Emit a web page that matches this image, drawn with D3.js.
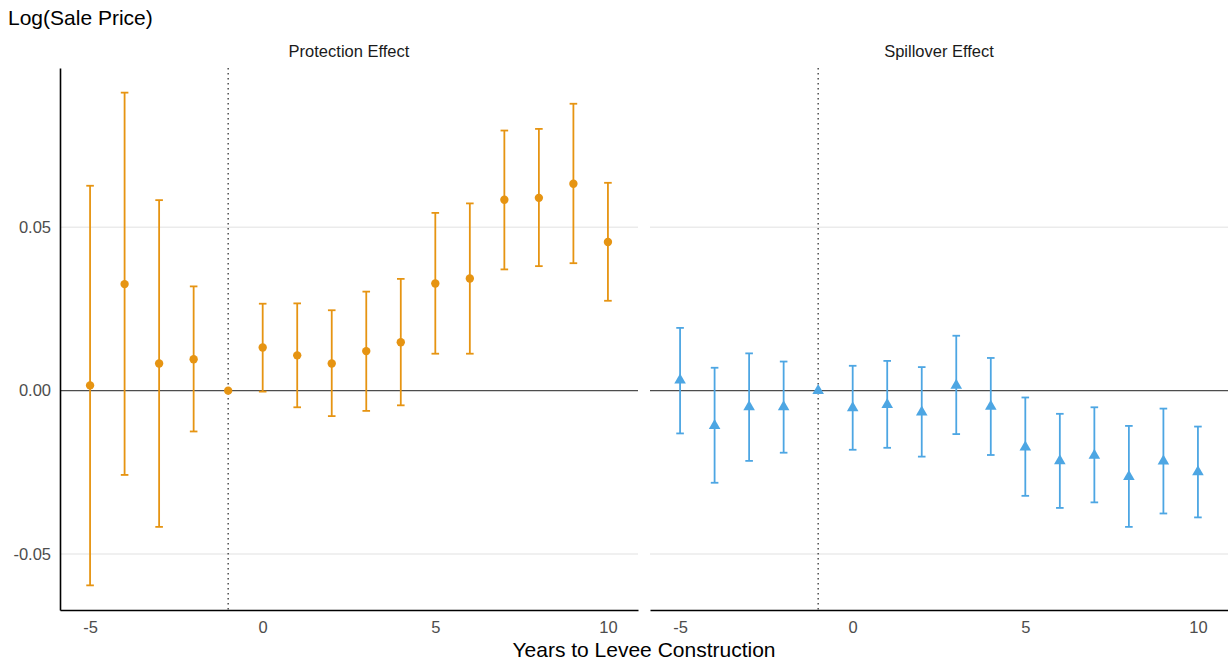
<!DOCTYPE html>
<html>
<head>
<meta charset="utf-8">
<script src="https://cdn.jsdelivr.net/npm/d3@7"></script>
<style>
  body { margin: 0; background: #fff; }
  text { font-family: "Liberation Sans", Arial, Helvetica, sans-serif; }
</style>
</head>
<body>
<svg id="chart"></svg>
<script>
// years relative to levee construction
const years = [-5, -4, -3, -2, -1, 0, 1, 2, 3, 4, 5, 6, 7, 8, 9, 10];

// Protection effect
const protEst = [0.0016, 0.0326, 0.0083, 0.0096, 0, 0.0132, 0.0108, 0.0083, 0.0121, 0.0148, 0.0328, 0.0343, 0.0584, 0.0590, 0.0633, 0.0455];
const protLo  = [-0.0596, -0.0258, -0.0417, -0.0125, 0, -0.0003, -0.0051, -0.0078, -0.0062, -0.0045, 0.0113, 0.0113, 0.0371, 0.0381, 0.0390, 0.0275];
const protHi  = [0.0627, 0.0912, 0.0583, 0.0319, 0, 0.0266, 0.0267, 0.0246, 0.0303, 0.0342, 0.0544, 0.0573, 0.0796, 0.0801, 0.0878, 0.0636];

// Spillover effect
const spillEst = [0.0032, -0.0107, -0.0050, -0.0050, 0, -0.0053, -0.0043, -0.0066, 0.0016, -0.0048, -0.0173, -0.0215, -0.0198, -0.0263, -0.0216, -0.0249];
const spillLo  = [-0.0131, -0.0282, -0.0215, -0.0190, 0, -0.0181, -0.0175, -0.0202, -0.0133, -0.0197, -0.0322, -0.0359, -0.0342, -0.0417, -0.0376, -0.0388];
const spillHi  = [0.0192, 0.0070, 0.0114, 0.0089, 0, 0.0076, 0.0091, 0.0072, 0.0168, 0.0100, -0.0021, -0.0071, -0.0051, -0.0108, -0.0055, -0.0110];

const panelNames = ["Protection Effect", "Spillover Effect"];
const xTicks = [-5, 0, 5, 10];
const yTicks = [-0.05, 0, 0.05];
const refYear = -1;

const width = 1228, height = 662;
const margin = { top: 68, bottom: 52, left: 60, right: 0 };
const panelGap = 12;
const panelW = (width - margin.left - margin.right - panelGap) / 2;
const panelH = height - margin.top - margin.bottom;

const panels = [
    { name: panelNames[0], est: protEst, lo: protLo, hi: protHi, color: "#E69412", shape: d3.symbolCircle },
    { name: panelNames[1], est: spillEst, lo: spillLo, hi: spillHi, color: "#4DA6E3", shape: d3.symbolTriangle }
];

const svg = d3.select("#chart")
    .attr("width", width)
    .attr("height", height);

// plain hyphen for negatives, like the original
const fmtX = d => String(d);
const fmtY = d => d3.format(".2f")(d).replace("\u2212", "-");

// scales (ggplot-style 5% expansion, error bar width included)
const barW = 0.22;
const xMin = d3.min(years) - barW / 2, xMax = d3.max(years) + barW / 2;
const xPad = (xMax - xMin) * 0.05;
const xScale = d3.scaleLinear()
    .domain([xMin - xPad, xMax + xPad])
    .range([0, panelW]);

const allVals = protLo.concat(protHi, spillLo, spillHi);
const yMin = d3.min(allVals), yMax = d3.max(allVals);
const yPad = (yMax - yMin) * 0.05;
const yScale = d3.scaleLinear()
    .domain([yMin - yPad, yMax + yPad])
    .range([panelH, 0]);

const tickFont = 16.5;

panels.forEach((p, i) => {
    const g = svg.append("g")
        .attr("transform", `translate(${margin.left + i * (panelW + panelGap)},${margin.top})`);

    // grid lines
    g.selectAll(".grid")
        .data(yTicks.filter(d => d !== 0))
        .join("line")
        .attr("x1", 0).attr("x2", panelW)
        .attr("y1", d => yScale(d)).attr("y2", d => yScale(d))
        .attr("stroke", "#ebebeb")
        .attr("stroke-width", 1.5);

    // zero line
    g.append("line")
        .attr("x1", 0).attr("x2", panelW)
        .attr("y1", yScale(0)).attr("y2", yScale(0))
        .attr("stroke", "#4d4d4d")
        .attr("stroke-width", 1.1);

    // reference year
    g.append("line")
        .attr("x1", xScale(refYear)).attr("x2", xScale(refYear))
        .attr("y1", 0).attr("y2", panelH)
        .attr("stroke", "#333")
        .attr("stroke-width", 1.3)
        .attr("stroke-dasharray", "1.4,3.6");

    const rows = years.map((yr, k) => ({ yr: yr, est: p.est[k], lo: p.lo[k], hi: p.hi[k] }));
    const bars = rows.filter(d => d.lo !== d.hi);

    // error bars
    const eb = g.append("g")
        .attr("stroke", p.color)
        .attr("stroke-width", 1.8)
        .attr("fill", "none");

    eb.selectAll(".stem").data(bars).join("line")
        .attr("x1", d => xScale(d.yr)).attr("x2", d => xScale(d.yr))
        .attr("y1", d => yScale(d.lo)).attr("y2", d => yScale(d.hi));

    eb.selectAll(".capTop").data(bars).join("line")
        .attr("x1", d => xScale(d.yr - barW / 2)).attr("x2", d => xScale(d.yr + barW / 2))
        .attr("y1", d => yScale(d.hi)).attr("y2", d => yScale(d.hi));

    eb.selectAll(".capBot").data(bars).join("line")
        .attr("x1", d => xScale(d.yr - barW / 2)).attr("x2", d => xScale(d.yr + barW / 2))
        .attr("y1", d => yScale(d.lo)).attr("y2", d => yScale(d.lo));

    // points
    const sym = d3.symbol().type(p.shape).size(p.shape === d3.symbolCircle ? 55 : 58);
    g.selectAll(".pt").data(rows).join("path")
        .attr("d", sym)
        .attr("transform", d => `translate(${xScale(d.yr)},${yScale(d.est)})`)
        .attr("fill", p.color);

    // bottom axis
    const xAxis = d3.axisBottom(xScale).tickValues(xTicks).tickSize(0).tickPadding(11).tickFormat(fmtX);
    const xg = g.append("g")
        .attr("transform", `translate(0,${panelH})`)
        .call(xAxis);
    xg.select(".domain").attr("stroke", "#000").attr("stroke-width", 1.6);
    xg.selectAll("text").attr("font-size", tickFont).attr("fill", "#4d4d4d")
        .attr("font-family", "Liberation Sans, Arial, sans-serif");

    if (i === 0) {
        const yAxis = d3.axisLeft(yScale).tickValues(yTicks).tickSize(0).tickPadding(9)
            .tickFormat(fmtY);
        const yg = g.append("g").call(yAxis);
        yg.select(".domain").attr("stroke", "#000").attr("stroke-width", 1.6);
        yg.selectAll("text").attr("font-size", tickFont).attr("fill", "#4d4d4d")
            .attr("font-family", "Liberation Sans, Arial, sans-serif");
    }

    // strip label
    g.append("text")
        .attr("x", panelW / 2)
        .attr("y", -11)
        .attr("text-anchor", "middle")
        .attr("font-size", 16.5)
        .attr("fill", "#1a1a1a")
        .text(p.name);
});

// titles
svg.append("text")
    .attr("x", 8)
    .attr("y", 25)
    .attr("font-size", 21)
    .attr("fill", "#000")
    .text("Log(Sale Price)");

svg.append("text")
    .attr("x", margin.left + (width - margin.left - margin.right) / 2)
    .attr("y", 657)
    .attr("text-anchor", "middle")
    .attr("font-size", 21)
    .attr("fill", "#000")
    .text("Years to Levee Construction");
</script>
</body>
</html>
